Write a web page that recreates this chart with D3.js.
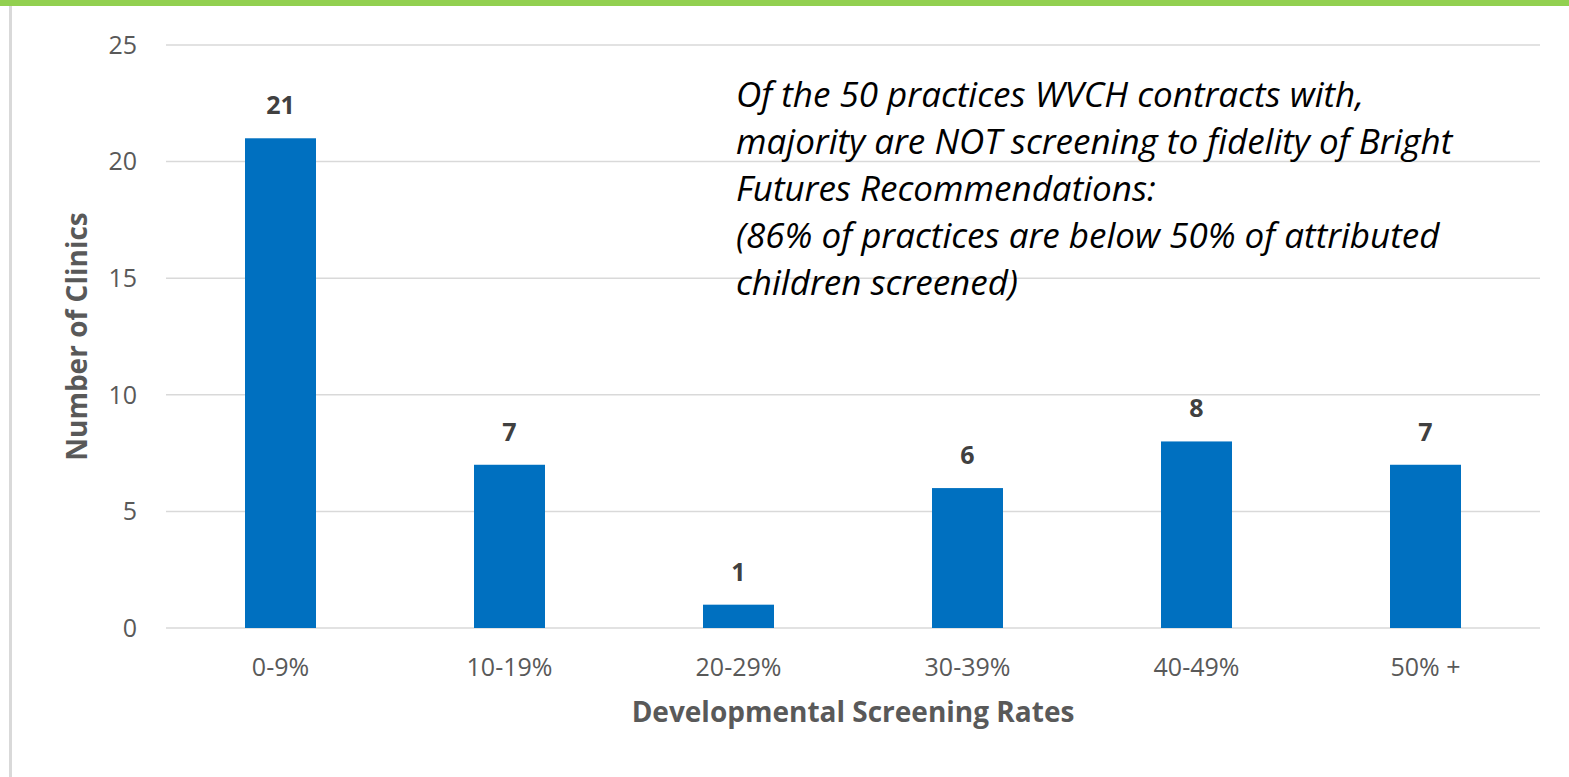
<!DOCTYPE html>
<html>
<head>
<meta charset="utf-8">
<script src="https://cdn.jsdelivr.net/npm/d3@7"></script>
<style>
  html, body { margin: 0; padding: 0; background: #fff; }
  svg { display: block; }
</style>
</head>
<body>
<div id="chart"></div>
<script>
const categories = ['0-9%', '10-19%', '20-29%', '30-39%', '40-49%', '50% +']
const clinics = [21, 7, 1, 6, 8, 7]
const yTicks = [0, 5, 10, 15, 20, 25]
const noteLines = [
    'Of the 50 practices WVCH contracts with,',
    'majority are NOT screening to fidelity of Bright',
    'Futures Recommendations:',
    '(86% of practices are below 50% of attributed',
    'children screened)'
]

const width = 1569, height = 777
const margin = { top: 45, right: 29, bottom: 149, left: 166 }
const font = '"Open Sans", "Noto Sans", sans-serif'

const svg = d3.select('#chart')
    .append('svg')
    .attr('width', width)
    .attr('height', height)

// frame: green bar on top, grey rule on the left
svg.append('rect')
    .attr('x', 0).attr('y', 0)
    .attr('width', width).attr('height', 6)
    .attr('fill', '#92d050')
svg.append('rect')
    .attr('x', 9).attr('y', 6)
    .attr('width', 3).attr('height', height - 6)
    .attr('fill', '#d9d9d9')

const x = d3.scaleBand()
    .domain(categories)
    .range([margin.left, width - margin.right])
    .paddingInner(0.69)
    .paddingOuter(0.345)

const y = d3.scaleLinear()
    .domain([0, 25])
    .range([height - margin.bottom, margin.top])

// gridlines
svg.append('g')
    .selectAll('line')
    .data(yTicks)
    .join('line')
    .attr('x1', margin.left)
    .attr('x2', width - margin.right)
    .attr('y1', d => y(d))
    .attr('y2', d => y(d))
    .attr('stroke', '#d9d9d9')
    .attr('stroke-width', 1.5)

// y tick labels
svg.append('g')
    .selectAll('text')
    .data(yTicks)
    .join('text')
    .attr('x', 137)
    .attr('y', d => y(d))
    .attr('dy', '0.35em')
    .attr('text-anchor', 'end')
    .attr('font-family', font)
    .attr('font-size', 25)
    .attr('fill', '#595959')
    .text(d => d)

// bars
svg.append('g')
    .selectAll('rect')
    .data(clinics)
    .join('rect')
    .attr('x', (d, i) => x(categories[i]))
    .attr('y', d => y(d))
    .attr('width', x.bandwidth())
    .attr('height', d => y(0) - y(d))
    .attr('fill', '#0070c0')

// value labels
svg.append('g')
    .selectAll('text')
    .data(clinics)
    .join('text')
    .attr('x', (d, i) => x(categories[i]) + x.bandwidth() / 2)
    .attr('y', d => y(d) - 24)
    .attr('text-anchor', 'middle')
    .attr('font-family', font)
    .attr('font-size', 25)
    .attr('font-weight', 'bold')
    .attr('fill', '#404040')
    .text(d => d)

// x tick labels
svg.append('g')
    .selectAll('text')
    .data(categories)
    .join('text')
    .attr('x', d => x(d) + x.bandwidth() / 2)
    .attr('y', 676)
    .attr('text-anchor', 'middle')
    .attr('font-family', font)
    .attr('font-size', 25)
    .attr('fill', '#595959')
    .text(d => d)

// axis titles
svg.append('text')
    .attr('x', (margin.left + width - margin.right) / 2)
    .attr('y', 722)
    .attr('text-anchor', 'middle')
    .attr('font-family', font)
    .attr('font-size', 28)
    .attr('font-weight', 'bold')
    .attr('fill', '#595959')
    .text('Developmental Screening Rates')

svg.append('text')
    .attr('transform', 'translate(87,' + (y(0) + y(25)) / 2 + ') rotate(-90)')
    .attr('text-anchor', 'middle')
    .attr('font-family', font)
    .attr('font-size', 28)
    .attr('font-weight', 'bold')
    .attr('fill', '#595959')
    .text('Number of Clinics')

// annotation
svg.append('text')
    .attr('font-family', font)
    .attr('font-size', 35)
    .attr('font-style', 'italic')
    .attr('fill', '#000')
    .selectAll('tspan')
    .data(noteLines)
    .join('tspan')
    .attr('x', 736)
    .attr('y', (d, i) => 107 + i * 47)
    .text(d => d)
</script>
</body>
</html>
